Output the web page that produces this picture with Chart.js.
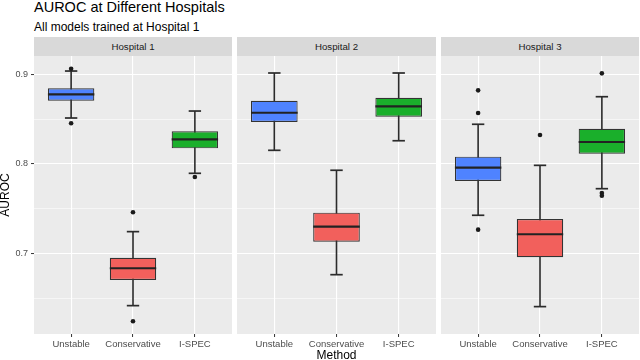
<!DOCTYPE html>
<html>
<head>
<meta charset="utf-8">
<script src="https://cdn.jsdelivr.net/npm/chart.js@4.4.0/dist/chart.umd.min.js"></script>
<style>
  body { margin: 0; width: 640px; height: 360px; background: #fff; position: relative; overflow: hidden;
         font-family: "Liberation Sans", Arial, sans-serif; }
  .txt { position: absolute; white-space: nowrap; }
  #title { left: 34px; top: 0px; font-size: 14.5px; line-height: 14.5px; color: #000; }
  #subtitle { left: 34px; top: 20.5px; font-size: 12px; line-height: 12px; color: #000; }
  .strip { position: absolute; top: 37px; height: 19px; background: #d9d9d9; color: #1a1a1a;
           font-size: 9.7px; line-height: 19px; text-align: center; }
  canvas { position: absolute; top: 56px; }
</style>
</head>
<body>
<div id="title" class="txt">AUROC at Different Hospitals</div>
<div id="subtitle" class="txt">All models trained at Hospital 1</div>

<div class="strip" id="s1" style="left:34px;width:198px"></div>
<div class="strip" id="s2" style="left:237px;width:199px"></div>
<div class="strip" id="s3" style="left:441px;width:198px"></div>

<canvas id="c1" width="234" height="312" style="left:-2px"></canvas>
<canvas id="c2" width="199" height="312" style="left:237px"></canvas>
<canvas id="c3" width="198" height="312" style="left:441px"></canvas>

<script>
// data
const hospitals = ["Hospital 1", "Hospital 2", "Hospital 3"];
const methods = ["Unstable", "Conservative", "I-SPEC"];
const yTicks = [0.7, 0.8, 0.9];

// [lower whisker, q1, median, q3, upper whisker] for Unstable, Conservative, I-SPEC
const hosp1Stats = [
  [0.8514, 0.8707, 0.8778, 0.8846, 0.9039],
  [0.6417, 0.6704, 0.6835, 0.6953, 0.7244],
  [0.7896, 0.8175, 0.8276, 0.8365, 0.8592]
];
const hosp2Stats = [
  [0.8153, 0.8469, 0.8573, 0.8707, 0.9017],
  [0.6763, 0.7132, 0.7300, 0.7456, 0.7930],
  [0.8260, 0.8529, 0.8645, 0.8741, 0.9017]
];
const hosp3Stats = [
  [0.7427, 0.7810, 0.7959, 0.8082, 0.8444],
  [0.6406, 0.6958, 0.7215, 0.7385, 0.7985],
  [0.7724, 0.8115, 0.8246, 0.8394, 0.8752]
];

const hosp1Outliers = [[0.9065, 0.8455], [0.7460, 0.6242], [0.7855]];
const hosp2Outliers = [[], [], []];
const hosp3Outliers = [[0.8823, 0.8570, 0.7266], [0.8324], [0.9013, 0.7675, 0.7645]];

const boxColors = ["#4f83ff", "#f2605c", "#1aaf2b"];

const yMin = 0.610, yMax = 0.9207;

// panel background
const panelBg = {
  id: "panelBg",
  beforeDraw(chart) {
    const a = chart.chartArea, ctx = chart.ctx;
    ctx.save();
    ctx.fillStyle = "#ebebeb";
    ctx.fillRect(a.left, a.top, a.right - a.left, a.bottom - a.top);
    ctx.restore();
  }
};

const isMajor = v => Math.abs(v * 10 - Math.round(v * 10)) < 1e-6;

function makePanel(id, stats, outliers, first, middle) {
  const whiskers = [], caps = [], boxes = [], medians = [], pts = [];
  stats.forEach((s, i) => {
    const x = i + 1;
    whiskers.push({ x: x, y: s[0] }, { x: x, y: s[4] }, { x: x, y: null });
    caps.push({ x: x, y: s[0] }, { x: x, y: s[4] });
    boxes.push({ x: x, y: [s[1], s[3]] });
    medians.push({ x: x, y: s[2] });
    outliers[i].forEach(v => pts.push({ x: x, y: v }));
  });

  // half widths in axis units -> pixels through the x scale
  const halfPx = (ctx, u) => {
    const sx = ctx.chart.scales.x;
    return sx.getPixelForValue(1 + u) - sx.getPixelForValue(1);
  };

  new Chart(document.getElementById(id), {
    type: "bar",
    data: {
      datasets: [
        { type: "line", data: whiskers, borderColor: "#2b2b2b", borderWidth: 1.6, pointRadius: 0, spanGaps: false, order: 4 },
        { type: "scatter", data: caps, pointStyle: "line", pointRadius: c => halfPx(c, 0.1),
          pointBorderColor: "#2b2b2b", pointBorderWidth: 1.7, order: 3 },
        { type: "bar", data: boxes, backgroundColor: boxColors, borderColor: "#333", borderWidth: 1.2,
          borderSkipped: false, categoryPercentage: 1, barPercentage: 0.75, order: 2 },
        { type: "scatter", data: medians, pointStyle: "line", pointRadius: c => halfPx(c, 0.375),
          pointBorderColor: "#222", pointBorderWidth: 2.2, order: 1 },
        { type: "scatter", data: pts, pointRadius: 2.3, pointBackgroundColor: "#1a1a1a", pointBorderWidth: 0, order: 0 }
      ]
    },
    options: {
      responsive: false,
      animation: false,
      layout: { padding: 0, autoPadding: false },
      plugins: { legend: { display: false }, tooltip: { enabled: false } },
      scales: {
        x: {
          type: "linear", min: 0.4, max: 3.6, offset: false,
          border: { display: false },
          grid: { offset: false, color: "#ffffff", lineWidth: 1.1, tickColor: "#333", tickLength: 3, tickWidth: 1 },
          ticks: { stepSize: 1, includeBounds: false, autoSkip: false, maxRotation: 0, padding: 2,
                   color: "#4d4d4d", font: { size: 9.5, family: "Liberation Sans" },
                   callback: v => methods[Math.round(v) - 1] },
          title: { display: middle, text: "Method", color: "#000", padding: { top: 0, bottom: 4.8 },
                   font: { size: 12, family: "Liberation Sans" } },
          afterFit: s => { s.height = 34; s.paddingLeft = 0; s.paddingRight = 0; }
        },
        y: {
          type: "linear", min: yMin, max: yMax, beginAtZero: false,
          border: { display: false },
          grid: {
            color: "#ffffff",
            lineWidth: c => (c.tick && isMajor(c.tick.value) ? 1.1 : 0.55),
            tickColor: c => (c.tick && isMajor(c.tick.value) ? "#333" : "rgba(0,0,0,0)"),
            tickWidth: 1, tickLength: 3, drawTicks: first
          },
          ticks: { display: first, stepSize: 0.05, includeBounds: false, autoSkip: false, padding: 3,
                   color: "#4d4d4d", font: { size: 9, family: "Liberation Sans" },
                   callback: v => (yTicks.some(t => Math.abs(t - v) < 1e-6) ? v.toFixed(1) : "") },
          title: { display: first, text: "AUROC", color: "#000", padding: 0,
                   font: { size: 12, family: "Liberation Sans" } },
          afterFit: s => { s.width = first ? 36 : 0; s.paddingTop = 0; s.paddingBottom = 0; }
        }
      }
    },
    plugins: [panelBg]
  });
}

hospitals.forEach((h, i) => { document.getElementById("s" + (i + 1)).textContent = h; });

makePanel("c1", hosp1Stats, hosp1Outliers, true, false);
makePanel("c2", hosp2Stats, hosp2Outliers, false, true);
makePanel("c3", hosp3Stats, hosp3Outliers, false, false);
</script>
</body>
</html>
